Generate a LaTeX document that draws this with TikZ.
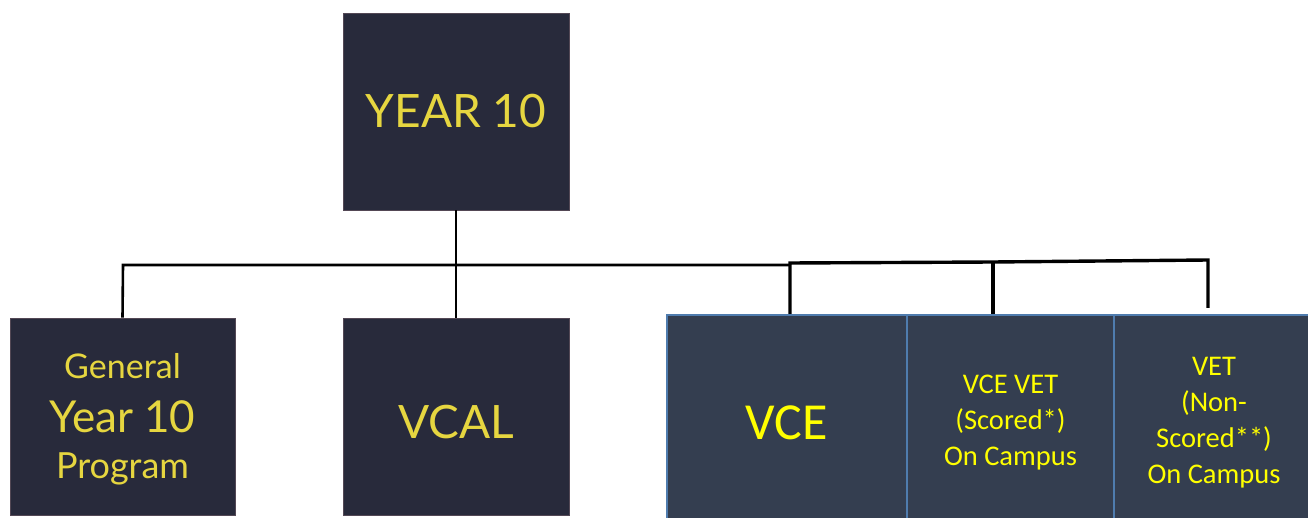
\documentclass[tikz,border=0pt]{standalone}
\usepackage{fontspec}
\setmainfont{Lato}
\newfontfamily\calib{Carlito}
\definecolor{navy}{HTML}{282A3B}
\definecolor{slate}{HTML}{343E50}
\definecolor{cellline}{HTML}{4F7CAE}
\definecolor{gold}{HTML}{E6D640}
\definecolor{brightyellow}{HTML}{FFFF00}
\tikzset{
  darkbox/.style={rectangle, fill=navy, draw=navy!80!pink, line width=0.6pt, inner sep=0pt},
  cellbox/.style={rectangle, fill=slate, draw=cellline, line width=2.2pt, inner sep=0pt},
  goldtext/.style={text=gold, inner sep=0pt},
  celltext/.style={text=brightyellow, inner sep=0pt, anchor=base, font=\calib\fontsize{28.5}{34}\selectfont},
  conn/.style={draw=black, line width=2.6pt},
  connb/.style={draw=black, line width=3.4pt},
}
\begin{document}
\begin{tikzpicture}[x=1pt,y=-1pt]
\useasboundingbox (0,0) rectangle (1308,518);
\fill[white] (0,0) rectangle (1308,518);
% dark boxes
\node[darkbox, minimum width=226pt, minimum height=197pt] (top) at (456,111.5) {};
\node[goldtext, font=\fontsize{46}{52}\selectfont] (toptext) at (top.center) {YEAR 10};
\node[darkbox, minimum width=225pt, minimum height=197pt] (gen) at (122.5,416.5) {};
\node[goldtext, anchor=base, font=\fontsize{34}{40}\selectfont] (gen1) at (122.5,378) {General};
\node[goldtext, anchor=base, font=\fontsize{44}{50}\selectfont] (gen2) at (122.5,432) {Year 10};
\node[goldtext, anchor=base, font=\fontsize{36}{40}\selectfont] (gen3) at (122.5,478) {Program};
\node[darkbox, minimum width=226pt, minimum height=197pt] (vcal) at (456,416.5) {};
\node[goldtext, font=\fontsize{46}{52}\selectfont] (vcaltext) at (456,422) {VCAL};
% right cells
\node[cellbox, minimum width=240pt, minimum height=206pt] (vce) at (787,418) {};
\node[text=brightyellow, inner sep=0pt, anchor=base, font=\calib\fontsize{52}{56}\selectfont] (vcetext) at (787,439) {VCE};
\node[cellbox, minimum width=207pt, minimum height=206pt] (vcevet) at (1010.5,418) {};
\node[celltext] (vv1) at (1010.5,393) {VCE VET};
\node[celltext] (vv2) at (1010.5,429) {(Scored*)};
\node[celltext] (vv3) at (1010.5,465) {On Campus};
\node[cellbox, minimum width=196pt, minimum height=206pt] (vet) at (1212,418) {};
\node[celltext] (vt1) at (1214,375) {VET};
\node[celltext] (vt2) at (1214,411) {(Non-};
\node[celltext] (vt3) at (1214,447) {Scored**)};
\node[celltext] (vt4) at (1214,483) {On Campus};
% junction coordinates
\coordinate (barL) at (123,265);
\coordinate (barR) at (790,265);
\coordinate (b1) at (790,263);
\coordinate (b2) at (993,262);
\coordinate (b3) at (1208,260);
\coordinate (vetend) at (1208,308);
% connectors
\draw[conn] (top.south) -- (vcal.north);
\draw[conn] (gen.north) -- (barL) -- (barR);
\draw[connb] ([xshift=3pt]vce.north) -- (b1) -- (b2) -- (b3) -- (vetend);
\draw[connb] ([xshift=-17.5pt]vcevet.north) -- (b2);
\end{tikzpicture}
\end{document}
